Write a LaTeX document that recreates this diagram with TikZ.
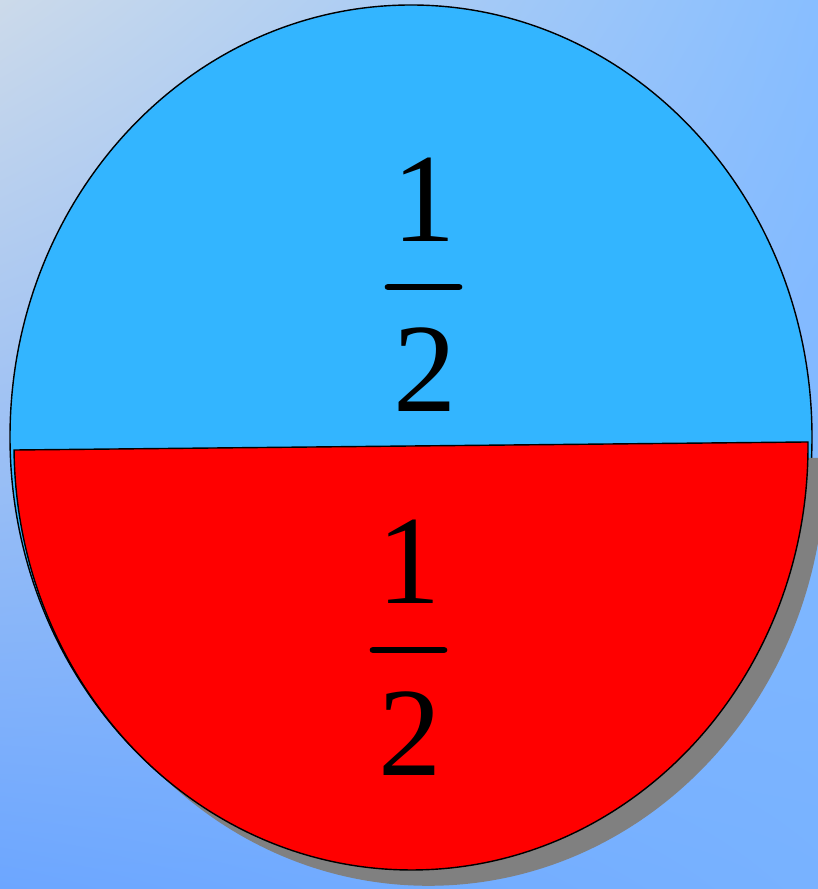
\documentclass[tikz,border=0pt]{standalone}
\usepackage{fontspec}
\setmainfont{Liberation Serif}
\usetikzlibrary{calc,shadings}
\definecolor{HalfSky}{HTML}{33B5FF}
\definecolor{HalfRed}{HTML}{FF0000}
\definecolor{ShadowGray}{HTML}{808080}
\definecolor{BgTopLeft}{HTML}{CCDAEA}
\definecolor{BgTopRight}{HTML}{88BEFF}
\definecolor{BgBotLeft}{HTML}{6CA6FF}
\definecolor{BgBotRight}{HTML}{78B2FF}
\begin{document}
\begin{tikzpicture}[x=0.02cm,y=0.02cm,
    digit/.style={anchor=base,inner sep=0pt,font=\fontsize{72}{86}\selectfont},
    fracbar/.style={line width=3.8pt,line cap=round}]
  \useasboundingbox (0,0) rectangle (818,889);
  \shade[upper left=BgTopLeft,upper right=BgTopRight,lower left=BgBotLeft,lower right=BgBotRight] (0,0) rectangle (818,889);
  % whole
  \draw[fill=HalfSky,line width=0.8pt] (411,452) ellipse [x radius=401,y radius=432];
  % lower half with its shadow
  \begin{scope}[rotate around={0.58:(411,443)}]
    \fill[ShadowGray] (428,427) ++(180:397) arc[start angle=180,end angle=360,x radius=397,y radius=424] -- cycle;
    \draw[fill=HalfRed,line width=0.8pt] (411,443) ++(180:397) arc[start angle=180,end angle=360,x radius=397,y radius=424] -- cycle;
  \end{scope}
  \node[digit] (numtop) at (424,647) {1};
  \node[digit] (dentop) at (425,477) {2};
  \draw[fracbar] (388,602) -- (459,602);
  \node[digit] (numbot) at (409,285) {1};
  \node[digit] (denbot) at (410,113) {2};
  \draw[fracbar] (373,239) -- (444,239);
\end{tikzpicture}
\end{document}
